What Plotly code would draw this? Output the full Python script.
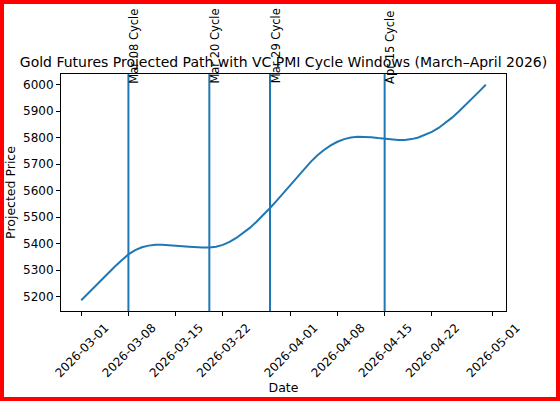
import pandas as pd
import plotly.graph_objects as go

# projected daily path
dates = pd.date_range("2026-03-01", "2026-04-30", freq="D")
price = [
    5187, 5213, 5238, 5264, 5289, 5314, 5338, 5360, 5376, 5387,
    5393, 5396, 5396, 5395, 5393, 5391, 5389, 5387, 5386, 5386,
    5389, 5396, 5407, 5422, 5440, 5460, 5483, 5508, 5535, 5563,
    5592, 5621, 5651, 5680, 5708, 5733, 5754, 5771, 5785, 5795,
    5801, 5804, 5804, 5802, 5799, 5796, 5794, 5792, 5792, 5795,
    5801, 5810, 5822, 5837, 5855, 5876, 5899, 5923, 5948, 5974,
    6000,
]

cycle_dates = ["2026-03-08", "2026-03-20", "2026-03-29", "2026-04-15"]
cycle_labels = ["Mar 08 Cycle", "Mar 20 Cycle", "Mar 29 Cycle", "Apr 15 Cycle"]

x_ticks = ["2026-03-01", "2026-03-08", "2026-03-15", "2026-03-22",
           "2026-04-01", "2026-04-08", "2026-04-15", "2026-04-22", "2026-05-01"]
y_ticks = [5200, 5300, 5400, 5500, 5600, 5700, 5800, 5900, 6000]

BLUE = "#1f77b4"
W, H = 560, 401
L, R, T, B = 61, 54, 74, 90

fig = go.Figure()
fig.add_trace(go.Scatter(x=dates, y=price, mode="lines",
                         line=dict(color=BLUE, width=2), showlegend=False))

y_top = max(price)
for d, lab in zip(cycle_dates, cycle_labels):
    fig.add_vline(x=d, line=dict(color=BLUE, width=2))
    fig.add_annotation(x=d, y=y_top, text=lab, textangle=-90, showarrow=False,
                       xanchor="left", yanchor="bottom", borderpad=0, xshift=-2,
                       font=dict(size=11.5, color="black"))

# red frame round the whole picture
pw, ph = W - L - R, H - T - B
def px(v): return (v - L) / pw
def py(v): return (H - B - v) / ph
fig.add_shape(type="rect", xref="paper", yref="paper",
              x0=px(2), x1=px(W - 2), y0=py(H - 2), y1=py(2),
              line=dict(color="red", width=4), layer="above")

span = pd.Timedelta(days=60) * 0.05
lo, hi = min(price), max(price)
pad = (hi - lo) * 0.05

axis_common = dict(showline=True, linecolor="black", linewidth=1, mirror=True,
                   showgrid=False, zeroline=False, ticks="outside", ticklen=4,
                   tickcolor="black", tickfont=dict(size=12, color="black"),
                   automargin=False)

fig.update_layout(
    width=W, height=H,
    margin=dict(l=L, r=R, t=T, b=B, autoexpand=False),
    plot_bgcolor="white", paper_bgcolor="white",
    font=dict(family="DejaVu Sans", color="black"),
    title=dict(text="Gold Futures Projected Path with VC PMI Cycle Windows (March–April 2026)",
               x=0.5, xref="paper", xanchor="center",
               y=1 - 62 / H, yanchor="middle", font=dict(size=14)),
    xaxis=dict(axis_common, type="date",
               range=[dates[0] - span, dates[-1] + span],
               tickvals=x_ticks, ticktext=x_ticks, tickangle=-45, ticklabelshift=24,
               title=dict(text="Date", font=dict(size=12.5), standoff=3)),
    yaxis=dict(axis_common, range=[lo - pad, hi + pad], tickvals=y_ticks,
               title=dict(text="Projected Price", font=dict(size=12.5), standoff=4)),
)

# drop the browser's default body margin so the figure sits at the corner
fig.write_html("out.html", config={"displayModeBar": False},
               post_script="document.body.style.margin='0';")
